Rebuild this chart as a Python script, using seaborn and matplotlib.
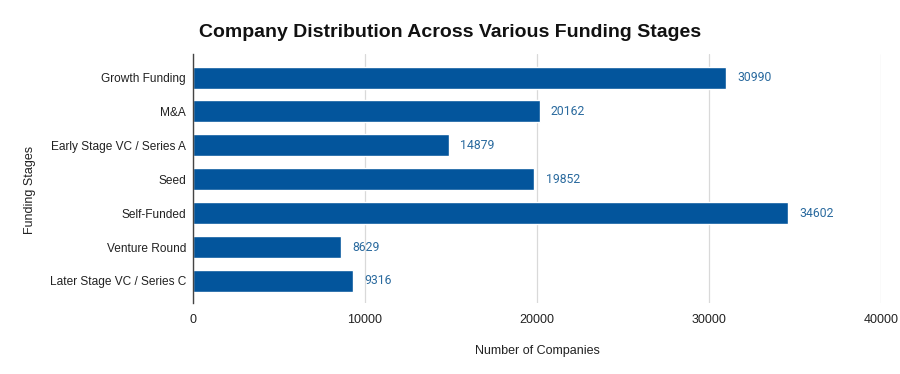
import matplotlib
matplotlib.use("Agg")
import matplotlib.pyplot as plt
import seaborn as sns
import pandas as pd

stages = ["Growth Funding", "M&A", "Early Stage VC / Series A", "Seed",
          "Self-Funded", "Venture Round", "Later Stage VC / Series C"]
companies = [30990, 20162, 14879, 19852, 34602, 8629, 9316]

df = pd.DataFrame({"Funding Stages": stages, "Number of Companies": companies})

sns.set_style("white")
plt.rcParams["font.family"] = ["Liberation Sans", "DejaVu Sans"]

fig = plt.figure(figsize=(9, 3.74), dpi=100)
ax = fig.add_axes([0.2144, 0.19, 0.7646, 0.666])

sns.barplot(data=df, x="Number of Companies", y="Funding Stages", color="#03559c",
            width=0.65, ax=ax, saturation=1)

for p, v in zip(ax.patches, companies):
    ax.text(p.get_width() + 650, p.get_y() + p.get_height() / 2, str(v),
            va="center", ha="left", fontsize=8.8, color="#2a6a9e", family="Roboto")

ax.set_xlim(0, 40000)
ax.set_ylim(6.65, -0.7)
ax.set_xticks([0, 10000, 20000, 30000, 40000])
ax.grid(axis="x", color="#d9d9d9", linewidth=0.9)
ax.set_axisbelow(True)
for s in ["top", "right", "bottom"]:
    ax.spines[s].set_visible(False)
ax.spines["left"].set_color("#444444")
ax.spines["left"].set_linewidth(1)
ax.tick_params(axis="x", length=0, labelsize=9, colors="#222222", pad=8)
ax.tick_params(axis="y", length=0, labelsize=8.6, colors="#222222", pad=5)
ax.set_xlabel("Number of Companies", fontsize=9, color="#222222", labelpad=14)
ax.set_ylabel("Funding Stages", fontsize=9, color="#222222")
ax.yaxis.set_label_coords(-0.228, 0.454)

fig.suptitle("Company Distribution Across Various Funding Stages", x=0.5, y=0.935,
             fontsize=14, fontweight="bold", color="#111111")

fig.savefig("out.png", dpi=100)
